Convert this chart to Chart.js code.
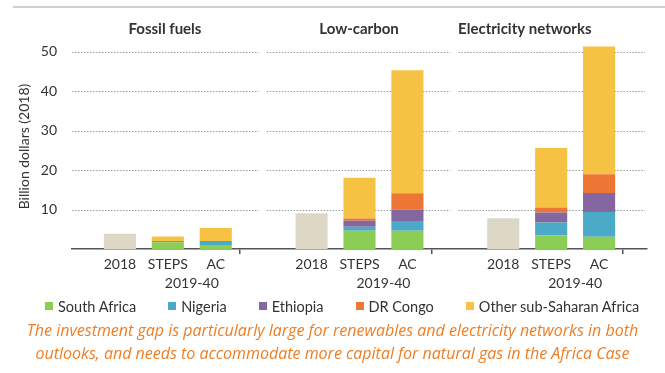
<!DOCTYPE html>
<html>
<head>
<meta charset="utf-8">
<script src="https://cdn.jsdelivr.net/npm/chart.js@4"></script>
<style>
    html, body { margin: 0; padding: 0; background: #fff; }
    #wrap { position: relative; width: 665px; height: 373px; overflow: hidden; }
    #chart { position: absolute; left: 0; top: 0; }
    #topRule { position: absolute; left: 13px; right: 0; top: 6px; height: 2px; background: #d0d0d0; }
    #legend {
        position: absolute; left: 45px; top: 297px; height: 18px;
        display: flex; align-items: center;
        font-family: Lato, sans-serif; font-size: 14.5px; color: #333;
    }
    #legend .item { display: flex; align-items: center; margin-right: 32px; white-space: nowrap; }
    #legend .box { width: 8px; height: 8px; margin-right: 5px; }
    #caption {
        position: absolute; left: 0; width: 665px; top: 319px;
        text-align: center; font-family: "Open Sans", sans-serif; font-style: italic;
        font-size: 16px; line-height: 23px; color: #ef7d22; white-space: nowrap;
    }
</style>
</head>
<body>
<div id="wrap">
    <div id="topRule"></div>
    <canvas id="chart" width="665" height="373"></canvas>
    <div id="legend"></div>
    <div id="caption">The investment gap is particularly large for renewables and electricity networks in both<br>outlooks, and needs to accommodate more capital for natural gas in the Africa Case</div>
</div>
<script>
// Panels and scenarios
const panels = ['Fossil fuels', 'Low-carbon', 'Electricity networks'];
const scenarios = ['2018', 'STEPS', 'AC'];
const periodLabel = '2019-40';

// 2018 investment per panel (billion dollars)
const actual2018 = [3.9, 9.1, 7.8];

// 2019-40 values per panel: [STEPS, AC]
const southAfrica = [[1.7, 1.0], [4.65, 4.65], [3.4, 3.1]];
const nigeria = [[0.3, 1.0], [1.0, 2.45], [3.3, 6.3]];
const ethiopia = [[0, 0], [1.5, 2.9], [2.55, 4.8]];
const drCongo = [[0, 0], [0.6, 4.15], [1.25, 4.75]];
const otherSSA = [[1.2, 3.3], [10.3, 31.2], [15.1, 32.4]];

const yTicks = [10, 20, 30, 40, 50];

// Category axis: a blank slot at each panel edge, bars in between
const labels = [];
panels.forEach(() => {
    labels.push('');
    scenarios.forEach(s => labels.push(s));
});
labels.push('');

const spread2018 = () => {
    const out = [];
    actual2018.forEach(v => out.push(null, v, null, null));
    out.push(null);
    return out;
};
const spreadPeriod = (arr) => {
    const out = [];
    arr.forEach(p => out.push(null, null, p[0], p[1]));
    out.push(null);
    return out;
};

const FONT = 'Lato, sans-serif';
const TEXT = '#333333';

// Dotted gridlines per panel, panel titles and the period label
const panelDecor = {
    id: 'panelDecor',
    beforeDatasetsDraw: (chart) => {
        const ctx = chart.ctx;
        const x = chart.scales.x;
        const y = chart.scales.y;
        const bounds = [0, 4, 8, 12].map(i => x.getPixelForValue(i));
        ctx.save();
        ctx.strokeStyle = '#9a9a9a';
        ctx.lineWidth = 1;
        ctx.setLineDash([1.5, 1.5]);
        yTicks.forEach(t => {
            const py = Math.round(y.getPixelForValue(t)) + 0.5;
            for (let p = 0; p < 3; p++) {
                const x0 = bounds[p] + (p === 0 ? 0 : 3);
                const x1 = bounds[p + 1] - (p === 2 ? 2 : 5);
                ctx.beginPath();
                ctx.moveTo(x0, py);
                ctx.lineTo(x1, py);
                ctx.stroke();
            }
        });
        ctx.restore();
    },
    afterDraw: (chart) => {
        const ctx = chart.ctx;
        const x = chart.scales.x;
        const titleAt = [1.94, 5.99, 9.45];
        ctx.save();
        ctx.fillStyle = TEXT;
        ctx.textAlign = 'center';
        ctx.textBaseline = 'middle';
        ctx.font = 'bold 15px ' + FONT;
        panels.forEach((p, i) => {
            ctx.fillText(p, x.getPixelForValue(titleAt[i]), 29);
        });
        ctx.font = '14px ' + FONT;
        panels.forEach((p, i) => {
            ctx.fillText(periodLabel, x.getPixelForValue(i * 4 + 2.5), 283);
        });
        ctx.restore();
    }
};

const colors = {
    base: '#ddd8c6',
    southAfrica: '#8ccd55',
    nigeria: '#4baac7',
    ethiopia: '#8466a0',
    drCongo: '#ee7634',
    other: '#f6c244'
};

const chart = new Chart(document.getElementById('chart'), {
    type: 'bar',
    data: {
        labels: labels,
        datasets: [
            { label: '2018', data: spread2018(), backgroundColor: colors.base },
            { label: 'South Africa', data: spreadPeriod(southAfrica), backgroundColor: colors.southAfrica },
            { label: 'Nigeria', data: spreadPeriod(nigeria), backgroundColor: colors.nigeria },
            { label: 'Ethiopia', data: spreadPeriod(ethiopia), backgroundColor: colors.ethiopia },
            { label: 'DR Congo', data: spreadPeriod(drCongo), backgroundColor: colors.drCongo },
            { label: 'Other sub-Saharan Africa', data: spreadPeriod(otherSSA), backgroundColor: colors.other }
        ]
    },
    options: {
        responsive: false,
        animation: false,
        layout: {
            padding: { left: 13, right: 18, top: 44, bottom: 101 }
        },
        datasets: {
            bar: { barPercentage: 0.67, categoryPercentage: 1, borderWidth: 0 }
        },
        scales: {
            x: {
                stacked: true,
                offset: false,
                afterFit: (axis) => { axis.height = 23; },
                grid: {
                    drawOnChartArea: false,
                    drawTicks: true,
                    tickLength: 5,
                    lineWidth: 1.5,
                    color: (c) => (c.index % 4 === 0 ? '#555555' : 'rgba(0,0,0,0)')
                },
                border: { color: '#555555', width: 1.5 },
                ticks: {
                    autoSkip: false,
                    maxRotation: 0,
                    padding: 2,
                    color: TEXT,
                    font: { family: FONT, size: 14 }
                }
            },
            y: {
                stacked: true,
                min: 0,
                max: 52,
                afterBuildTicks: (axis) => {
                    axis.ticks = yTicks.map(v => ({ value: v }));
                },
                afterFit: (axis) => { axis.width = 59; },
                grid: { display: false, drawTicks: false },
                border: { display: false },
                ticks: {
                    padding: 15,
                    color: TEXT,
                    font: { family: FONT, size: 14 }
                },
                title: {
                    display: true,
                    text: 'Billion dollars (2018)',
                    color: TEXT,
                    padding: { top: 3, bottom: 0 },
                    font: { family: FONT, size: 14 }
                }
            }
        },
        plugins: {
            legend: { display: false },
            tooltip: { enabled: false }
        }
    },
    plugins: [panelDecor]
});

// HTML legend built from the chart's own datasets (2018 bar left out)
const legendEl = document.getElementById('legend');
chart.data.datasets.slice(1).forEach(ds => {
    const item = document.createElement('div');
    item.className = 'item';
    const box = document.createElement('span');
    box.className = 'box';
    box.style.background = ds.backgroundColor;
    const text = document.createElement('span');
    text.textContent = ds.label;
    item.appendChild(box);
    item.appendChild(text);
    legendEl.appendChild(item);
});
</script>
</body>
</html>
